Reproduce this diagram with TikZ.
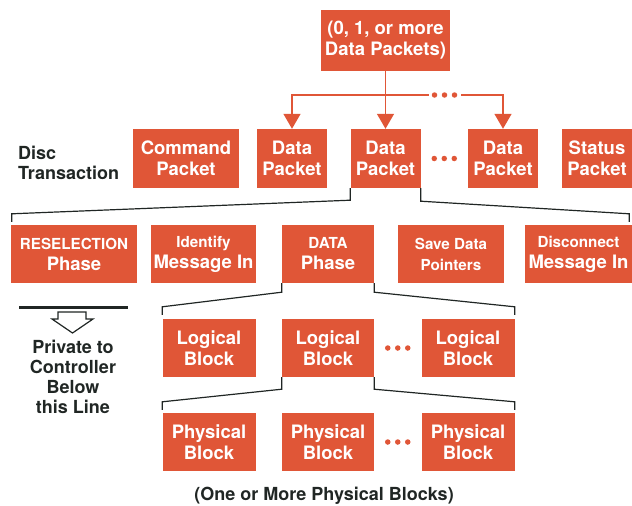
\documentclass[tikz,border=0pt]{standalone}
\usepackage{fontspec}
\setmainfont{TeX Gyre Heros}
\usetikzlibrary{arrows.meta,calc,positioning}

\definecolor{boxred}{RGB}{224,86,55}
\definecolor{ink}{RGB}{32,38,36}
\newcommand{\sm}{\fontsize{15.2}{21}\selectfont}
% three dots centred on a coordinate
\newcommand{\Dots}[1]{\foreach \i/\dx in {1/-10,2/0,3/10} \node (#1\i) at ($(#1)+(\dx,0)$) [Dot] {};}

\begin{document}
\begin{tikzpicture}[x=1pt,y=-1pt]
	\tikzstyle{Box}		= [rectangle, fill=boxred, text=white, font=\bfseries\fontsize{18.5}{21}\selectfont, align=center, inner sep=0pt, minimum height=58pt]
	\tikzstyle{Packet}	= [Box, minimum width=70pt, minimum height=59pt]
	\tikzstyle{Block}	= [Box, minimum width=93pt]
	\tikzstyle{Label}	= [text=ink, font=\bfseries\fontsize{18}{20}\selectfont, inner sep=0pt]
	\tikzstyle{Feed}	= [boxred, line width=1.5pt]
	\tikzstyle{Tip}		= [-{Triangle[width=17pt,length=15pt]}]
	\tikzstyle{Bracket}	= [ink, line width=1.2pt]
	\tikzstyle{Dot}		= [circle, fill=boxred, minimum size=5.5pt, inner sep=0pt]

	\useasboundingbox (0,0) rectangle (632,506);

	% disc transaction
	\node (top) at (385.5,40.5) [Box, minimum width=129pt, minimum height=61pt] {(0, 1, or more\\Data Packets)};
	\node (cmd) at (186,158.5) [Packet, minimum width=106pt] {Command\\Packet};
	\node (dp1) at (292,158.5) [Packet] {Data\\Packet};
	\node (dp2) at (385.5,158.5) [Packet] {Data\\Packet};
	\node (dp3) at (503,158.5) [Packet] {Data\\Packet};
	\node (stat) at (597,158.5) [Packet] {Status\\Packet};

	\node (disc) at (18,146) [Label, anchor=north west, align=left] {Disc\\Transaction};

	% phases
	\node (rs) at (74,254) [Box, minimum width=126pt] {{\sm RESELECTION}\\Phase};
	\node (idm) at (203.5,254) [Box, minimum width=105pt] {{\sm Identify}\\Message In};
	\node (dph) at (328,254) [Box, minimum width=92pt] {{\sm DATA}\\Phase};
	\node (sdp) at (451,254) [Box, minimum width=106pt] {\sm Save Data\\\sm Pointers};
	\node (dmi) at (578.5,254) [Box, minimum width=107pt] {{\sm Disconnect}\\Message In};

	% blocks
	\node (lb1) at (209,348) [Block] {Logical\\Block};
	\node (lb2) at (328,348) [Block, minimum width=92pt] {Logical\\Block};
	\node (lb3) at (468,348) [Block] {Logical\\Block};
	\node (pb1) at (209,442) [Block] {Physical\\Block};
	\node (pb2) at (328,442) [Block, minimum width=92pt] {Physical\\Block};
	\node (pb3) at (468,442) [Block] {Physical\\Block};

	\node (note) at (324,500) [Label, anchor=base] {(One or More Physical Blocks)};

	% fan out of the data packets
	\coordinate (fork) at (385.5,95);
	\coordinate (gapL) at (429,95);
	\coordinate (gapR) at (461,95);
	\coordinate (e0) at (444.5,95);
	\draw [Feed, Tip] (top.south) -- (dp2.north);
	\draw [Feed, Tip] (fork) -| (dp1.north);
	\draw [Feed] (fork) -- (gapL);
	\draw [Feed, Tip] (gapR) -| (dp3.north);

	\coordinate (e1) at ($(dp2.east)!0.5!(dp3.west)$);
	\coordinate (e2) at ($(lb2.east)!0.5!(lb3.west)$);
	\coordinate (e3) at ($(pb2.east)!0.5!(pb3.west)$);
	\Dots{e0} \Dots{e1} \Dots{e2} \Dots{e3}

	% brackets
	\draw [Bracket] (dp2.south west) -- ++(0,12) -- ($(rs.north west)+(1,-11)$) -- ($(rs.north west)+(1,-3)$);
	\draw [Bracket] (dp2.south east) -- ++(0,13) -- ($(dmi.north east)+(-3,-11)$) -- ($(dmi.north east)+(-3,-3)$);
	\draw [Bracket] (dph.south west) -- ++(0,9) -- ($(lb1.north west)+(0,-12)$) -- ($(lb1.north west)+(0,-4)$);
	\draw [Bracket] (dph.south east) -- ++(0,9) -- ($(lb3.north east)+(0,-12)$) -- ($(lb3.north east)+(0,-4)$);
	\draw [Bracket] (lb2.south west) -- ++(0,12) -- ($(pb1.north west)+(0,-11)$) -- ($(pb1.north west)+(0,-3)$);
	\draw [Bracket] (lb2.south east) -- ++(0,12) -- ($(pb3.north east)+(0,-11)$) -- ($(pb3.north east)+(0,-3)$);

	% controller line
	\draw [ink, line width=3pt] (19,307) -- (128,307);
	\draw [ink, line width=1.2pt, fill=white] (58,312) -- (86,312) -- (86,319) -- (93,319) -- (72.5,333) -- (52,319) -- (58,319) -- cycle;
	\node (priv) at (73,339.5) [Label, anchor=north, align=center] {Private to\\Controller\\Below\\this Line};
\end{tikzpicture}
\end{document}
